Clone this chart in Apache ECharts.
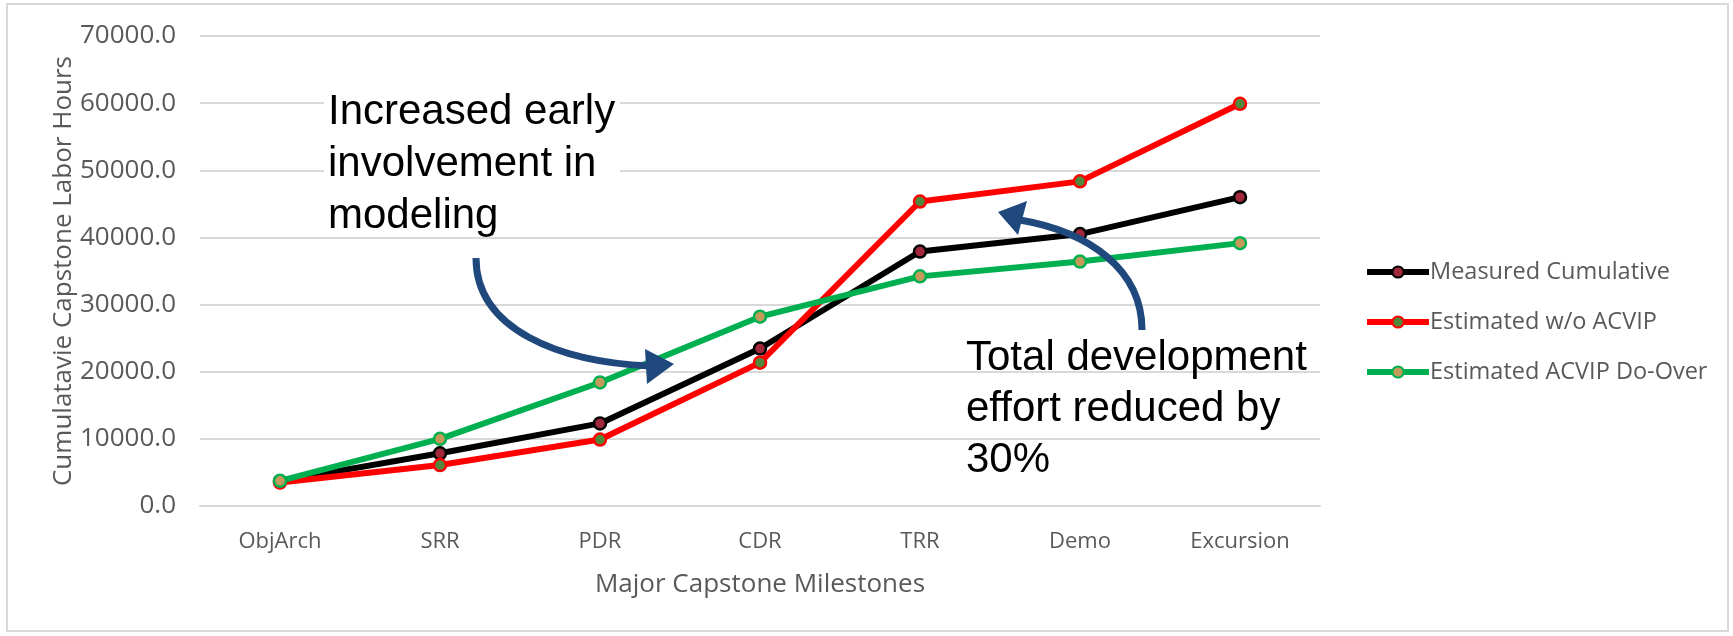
<!DOCTYPE html>
<html>
<head>
<meta charset="utf-8">
<script src="https://cdn.jsdelivr.net/npm/echarts@6/dist/echarts.min.js"></script>
<style>
  html, body { margin: 0; padding: 0; background: #ffffff; }
  #chart { width: 1733px; height: 636px; }
</style>
</head>
<body>
<div id="chart"></div>
<script>
// Milestones along the capstone schedule
const milestones = ['ObjArch', 'SRR', 'PDR', 'CDR', 'TRR', 'Demo', 'Excursion'];

// Cumulative labor hours per milestone
const measuredCumulative = [3700, 7850, 12300, 23450, 37900, 40500, 46000];
const estimatedWithoutAcvip = [3500, 6100, 9900, 21350, 45350, 48350, 59900];
const estimatedAcvipDoOver = [3750, 10000, 18400, 28200, 34200, 36400, 39150];

const seriesNames = ['Measured Cumulative', 'Estimated w/o ACVIP', 'Estimated ACVIP Do-Over'];

const yTickValues = [0, 10000, 20000, 30000, 40000, 50000, 60000, 70000];

const labelFont = 'Open Sans';
const gray = '#595959';

function lineSeries(name, data, lineColor, fillColor) {
  return {
    name: name,
    type: 'line',
    data: data,
    symbol: 'circle',
    symbolSize: 12,
    lineStyle: { color: lineColor, width: 6 },
    itemStyle: { color: fillColor, borderColor: lineColor, borderWidth: 2.5 },
    emphasis: { disabled: true },
    animation: false
  };
}

const chart = echarts.init(document.getElementById('chart'), null, { renderer: 'canvas' });

const arrowColor = '#1f497d';

chart.setOption({
  backgroundColor: '#ffffff',
  animation: false,
  grid: { left: 200, right: 413, top: 36, bottom: 130, containLabel: false },
  legend: {
    orient: 'vertical',
    left: 1359,
    top: 255,
    itemWidth: 62,
    itemHeight: 14,
    itemGap: 26,
    data: seriesNames,
    lineStyle: { width: 6 },
    textStyle: {
      fontFamily: labelFont, fontSize: 23.5, color: gray, lineHeight: 22,
      padding: [0, 0, 0, -4]
    }
  },
  xAxis: {
    type: 'category',
    data: milestones,
    boundaryGap: true,
    axisLine: { lineStyle: { color: '#d9d9d9', width: 2 } },
    axisTick: { show: false },
    axisLabel: { fontFamily: labelFont, fontSize: 22, color: gray, margin: 25 },
    name: 'Major Capstone Milestones',
    nameLocation: 'middle',
    nameGap: 66,
    nameMoveOverlap: false,
    nameTextStyle: { fontFamily: labelFont, fontSize: 26, color: gray }
  },
  yAxis: {
    type: 'value',
    min: yTickValues[0],
    max: yTickValues[yTickValues.length - 1],
    interval: yTickValues[1] - yTickValues[0],
    axisLine: { show: false },
    axisTick: { show: false },
    splitLine: { lineStyle: { color: '#d9d9d9', width: 2 } },
    axisLabel: {
      fontFamily: labelFont, fontSize: 26, color: gray, margin: 24,
      formatter: function (v) { return v.toFixed(1); }
    },
    name: 'Cumulatavie Capstone Labor Hours',
    nameLocation: 'middle',
    nameGap: 123,
    nameMoveOverlap: false,
    nameTextStyle: { fontFamily: labelFont, fontSize: 26, color: gray }
  },
  series: [
    lineSeries(seriesNames[0], measuredCumulative, '#000000', '#a0283a'),
    lineSeries(seriesNames[1], estimatedWithoutAcvip, '#ff0000', '#4f8a3c'),
    lineSeries(seriesNames[2], estimatedAcvipDoOver, '#00b050', '#c49a5a')
  ],
  graphic: [
    // outer frame
    {
      type: 'rect', silent: true, z: 100,
      shape: { x: 7, y: 4, width: 1721, height: 627 },
      style: { fill: 'none', stroke: '#d9d9d9', lineWidth: 2 }
    },
    // white text box behind the modeling note
    {
      type: 'rect', silent: true, z: 100,
      shape: { x: 324, y: 88, width: 296, height: 140 },
      style: { fill: '#ffffff' }
    },
    {
      type: 'text', left: 328, top: 86, silent: true, z: 101,
      style: {
        text: 'Increased early\ninvolvement in\nmodeling',
        fontFamily: 'Liberation Sans', fontSize: 42, lineHeight: 52, fill: '#000000'
      }
    },
    // curved arrow pointing toward the green curve
    {
      type: 'bezierCurve', silent: true, z: 101,
      shape: { x1: 476, y1: 258, cpx1: 476, cpy1: 330, cpx2: 560, cpy2: 362, x2: 650, y2: 366 },
      style: { stroke: arrowColor, lineWidth: 7, fill: 'none' }
    },
    {
      type: 'polygon', silent: true, z: 101,
      shape: { points: [[674, 364], [645, 349], [647, 384]] },
      style: { fill: arrowColor }
    },
    // note about total effort
    {
      type: 'text', left: 966, top: 333, silent: true, z: 101,
      style: {
        text: 'Total development\neffort reduced by\n30%',
        fontFamily: 'Liberation Sans', fontSize: 42, lineHeight: 51, fill: '#000000'
      }
    },
    // curved arrow pointing back to the red curve
    {
      type: 'bezierCurve', silent: true, z: 101,
      shape: { x1: 1142, y1: 330, cpx1: 1142, cpy1: 270, cpx2: 1090, cpy2: 232, x2: 1020, y2: 220 },
      style: { stroke: arrowColor, lineWidth: 7, fill: 'none' }
    },
    {
      type: 'polygon', silent: true, z: 101,
      shape: { points: [[998, 212], [1027, 201], [1018, 235]] },
      style: { fill: arrowColor }
    }
  ]
});
</script>
</body>
</html>
